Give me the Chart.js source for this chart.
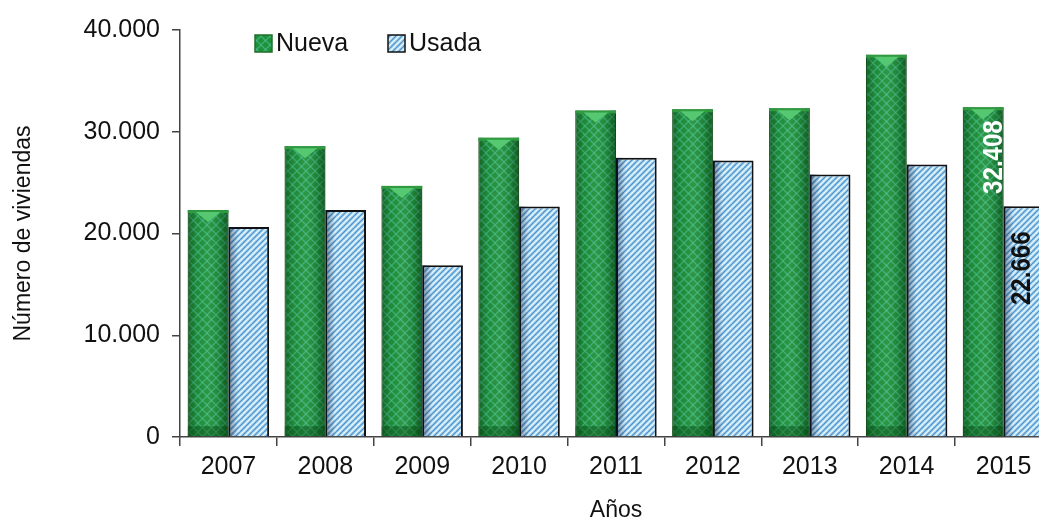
<!DOCTYPE html>
<html>
<head>
<meta charset="utf-8">
<script src="https://cdn.jsdelivr.net/npm/chart.js@4"></script>
<style>
  html, body { margin: 0; padding: 0; background: #fff; overflow: hidden; }
  #wrap { width: 1052px; height: 528px; }
</style>
</head>
<body>
<div id="wrap"><canvas id="myChart"></canvas></div>
<script>
const years = ["2007", "2008", "2009", "2010", "2011", "2012", "2013", "2014", "2015"];
const nueva = [22300, 28580, 24680, 29420, 32090, 32210, 32310, 37570, 32408];
const usada = [20640, 22300, 16880, 22660, 27440, 27170, 25810, 26780, 22666];
const yTicks = [0, 10000, 20000, 30000, 40000];
const labelled = ["2015"];

function fmt(v) {
  return String(v).replace(/\B(?=(\d{3})+(?!\d))/g, ".");
}

function greenPattern() {
  const s = 9;
  const c = document.createElement("canvas");
  c.width = s; c.height = s;
  const g = c.getContext("2d");
  g.fillStyle = "#21903a";
  g.fillRect(0, 0, s, s);
  g.strokeStyle = "rgba(80,210,170,0.5)";
  g.lineWidth = 1.3;
  for (let k = -1; k <= 1; k++) {
    g.beginPath(); g.moveTo(k * s, s); g.lineTo(k * s + s, 0); g.stroke();
    g.beginPath(); g.moveTo(k * s, 0); g.lineTo(k * s + s, s); g.stroke();
  }
  return g.createPattern(c, "repeat");
}

function bluePattern() {
  const s = 6;
  const c = document.createElement("canvas");
  c.width = s; c.height = s;
  const g = c.getContext("2d");
  g.fillStyle = "#a3d5f2";
  g.fillRect(0, 0, s, s);
  g.lineWidth = 1.2;
  for (let k = -1; k <= 1; k++) {
    g.strokeStyle = "#4f8fc6";
    g.beginPath(); g.moveTo(k * s, s); g.lineTo(k * s + s, 0); g.stroke();
    g.strokeStyle = "rgba(255,255,255,0.85)";
    g.beginPath(); g.moveTo(k * s + s / 2, s); g.lineTo(k * s + s * 1.5, 0); g.stroke();
  }
  return g.createPattern(c, "repeat");
}

const gp = greenPattern();
const bp = bluePattern();
const font = "'Liberation Sans', Arial, sans-serif";

// cylinder shading + top bevel on the green bars
const shading = {
  id: "shading",
  afterDatasetsDraw(chart) {
    const ctx = chart.ctx;
    const meta = chart.getDatasetMeta(0);
    meta.data.forEach(bar => {
      const w = bar.width, l = bar.x - w / 2, r = bar.x + w / 2;
      const top = bar.y, bot = bar.base;
      const grad = ctx.createLinearGradient(l, 0, r, 0);
      grad.addColorStop(0, "rgba(0,40,0,0.4)");
      grad.addColorStop(0.2, "rgba(0,0,0,0.05)");
      grad.addColorStop(0.5, "rgba(255,255,255,0.06)");
      grad.addColorStop(0.8, "rgba(0,0,0,0.12)");
      grad.addColorStop(1, "rgba(0,40,0,0.5)");
      ctx.save();
      ctx.fillStyle = grad;
      ctx.fillRect(l, top, w, bot - top);
      ctx.fillStyle = "#2f9a40";
      ctx.fillRect(l, top, w, 3);
      ctx.beginPath();
      ctx.moveTo(l + 8, top + 2);
      ctx.lineTo(r - 8, top + 2);
      ctx.lineTo(bar.x, top + 12);
      ctx.closePath();
      ctx.fillStyle = "#56c872";
      ctx.fill();
      ctx.fillStyle = "rgba(0,60,10,0.35)";
      ctx.fillRect(l, bot - 10, w, 10);
      ctx.restore();
    });
    const meta2 = chart.getDatasetMeta(1);
    meta2.data.forEach(bar => {
      const w = bar.width, l = bar.x - w / 2;
      const grad = ctx.createLinearGradient(l, 0, l + 10, 0);
      grad.addColorStop(0, "rgba(0,20,50,0.45)");
      grad.addColorStop(1, "rgba(0,20,50,0)");
      ctx.save();
      ctx.fillStyle = grad;
      ctx.fillRect(l, bar.y, 10, bar.base - bar.y);
      ctx.restore();
    });
  }
};

// rotated value labels on the last year
const valueLabels = {
  id: "valueLabels",
  afterDatasetsDraw(chart) {
    const ctx = chart.ctx;
    const setup = [
      { ds: 0, color: "#ffffff", off: 13, dx: 11 },
      { ds: 1, color: "#111111", off: 25, dx: -2 }
    ];
    setup.forEach(s => {
      const meta = chart.getDatasetMeta(s.ds);
      years.forEach((yr, i) => {
        if (!labelled.includes(yr)) return;
        const bar = meta.data[i];
        const v = chart.data.datasets[s.ds].data[i];
        ctx.save();
        ctx.translate(bar.x + s.dx, bar.y + s.off);
        ctx.rotate(-Math.PI / 2);
        ctx.scale(0.86, 1);
        ctx.font = "bold 28px " + font;
        ctx.fillStyle = s.color;
        ctx.textAlign = "right";
        ctx.textBaseline = "middle";
        ctx.fillText(fmt(v), 0, 0);
        ctx.restore();
      });
    });
  }
};

// legend sitting inside the plot area
const legendBox = {
  id: "legendBox",
  afterDraw(chart) {
    const ctx = chart.ctx;
    const items = [
      { text: "Nueva", x: 255, fill: gp, border: "#1f6e2a" },
      { text: "Usada", x: 388, fill: bp, border: "#111" }
    ];
    ctx.save();
    ctx.font = "25px " + font;
    ctx.textBaseline = "middle";
    items.forEach(it => {
      ctx.fillStyle = it.fill;
      ctx.fillRect(it.x, 35, 17, 17);
      ctx.strokeStyle = it.border;
      ctx.lineWidth = 1.5;
      ctx.strokeRect(it.x, 35, 17, 17);
      ctx.fillStyle = "#111";
      ctx.fillText(it.text, it.x + 21, 44);
    });
    ctx.restore();
  }
};

const data = {
  labels: years,
  datasets: [
    {
      label: "Nueva",
      data: nueva,
      backgroundColor: gp,
      borderColor: "#1f6e2a",
      borderWidth: 1,
      categoryPercentage: 0.84,
      barPercentage: 1.0
    },
    {
      label: "Usada",
      data: usada,
      backgroundColor: bp,
      borderColor: "#111",
      borderWidth: 2,
      categoryPercentage: 0.84,
      barPercentage: 1.0
    }
  ]
};

const config = {
  type: "bar",
  data: data,
  options: {
    responsive: true,
    maintainAspectRatio: false,
    animation: false,
    layout: { padding: { top: 30, right: 0, left: 0, bottom: 0 } },
    plugins: {
      legend: { display: false },
      tooltip: { enabled: false }
    },
    scales: {
      x: {
        grid: { drawOnChartArea: false, tickLength: 9, tickColor: "#444", lineWidth: 1.5 },
        border: { color: "#444", width: 1.5 },
        ticks: { color: "#111", font: { size: 25, family: font }, padding: 6 },
        title: {
          display: true,
          text: "Años",
          color: "#111",
          font: { size: 23, family: font },
          padding: { top: 12, bottom: 4 }
        },
        afterFit(scale) { scale.height = 91; }
      },
      y: {
        min: 0,
        max: 40000,
        afterBuildTicks(scale) { scale.ticks = yTicks.map(v => ({ value: v })); },
        grid: { drawOnChartArea: false, tickLength: 8, tickColor: "#444", lineWidth: 1.5 },
        border: { color: "#444", width: 1.5 },
        ticks: {
          color: "#111",
          font: { size: 25, family: font },
          padding: 12,
          callback: v => fmt(v)
        },
        title: {
          display: true,
          text: "Número de viviendas",
          color: "#111",
          font: { size: 23, family: font },
          padding: { top: 10 }
        },
        afterFit(scale) {
          scale.width = 180;
          scale.paddingTop = 0;
        }
      }
    }
  },
  plugins: [shading, valueLabels, legendBox]
};

var myChart = new Chart(document.getElementById("myChart"), config);
</script>
</body>
</html>
